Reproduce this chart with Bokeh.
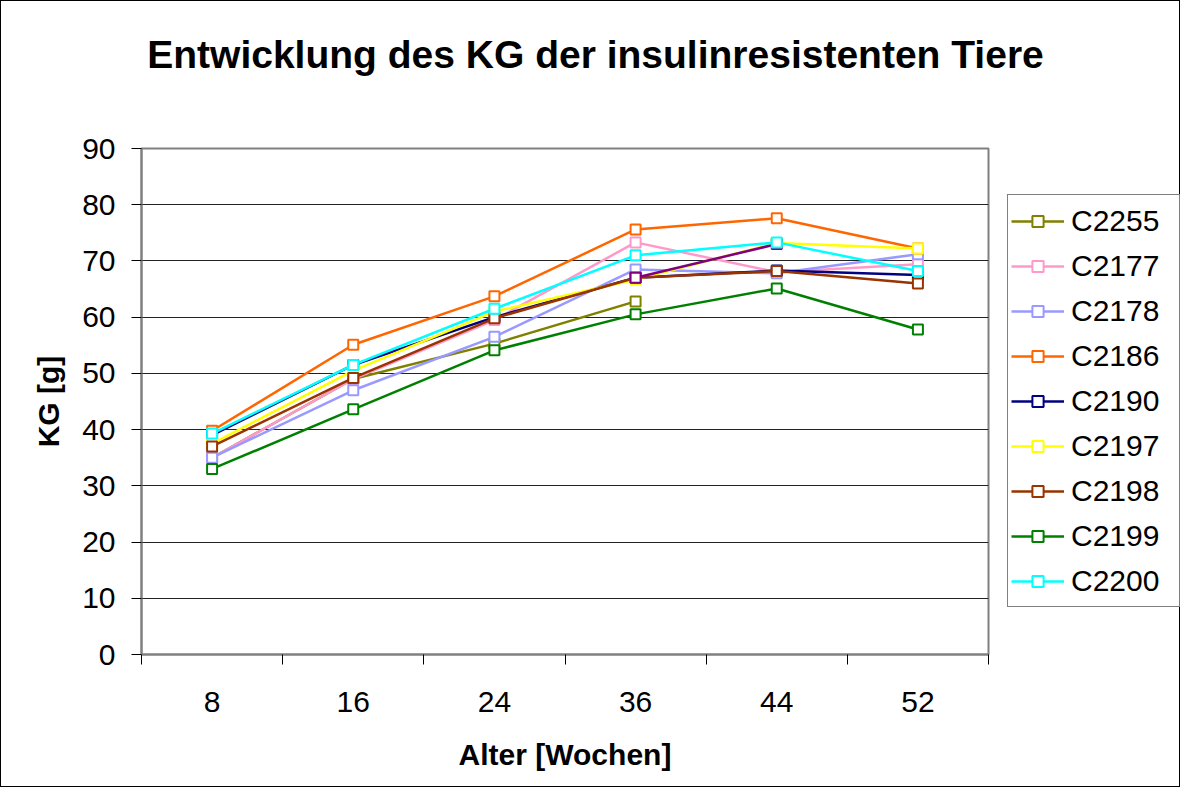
import numpy as np
from bokeh.plotting import figure
from bokeh.models import Range1d, FixedTicker, Legend, LegendItem, Label
from bokeh.layouts import column, row
from bokeh.embed import file_html
from bokeh.resources import INLINE

nan = np.nan
weeks = ["8", "16", "24", "36", "44", "52"]

names = ["C2255", "C2177", "C2178", "C2186", "C2190", "C2197", "C2198", "C2199", "C2200"]
C2255 = [35.0, 49.0, 55.3, 62.8, nan, nan]
C2177 = [35.0, 49.0, 59.5, 73.3, 68.0, 69.4]
C2178 = [35.0, 47.0, 56.5, 68.5, 67.8, 71.2]
C2186 = [39.8, 55.1, 63.7, 75.6, 77.6, 72.2]
C2190 = [39.0, 51.5, 60.0, 67.0, 68.3, 67.5]
C2197 = [37.5, 50.5, 61.0, 66.7, 73.2, 72.2]
C2198 = [37.0, 49.2, 59.8, 67.0, 68.2, 66.0]
C2199 = [33.0, 43.6, 54.1, 60.5, 65.1, 57.8]
C2200 = [39.3, 51.5, 61.5, 71.0, 73.3, 68.2]
unnamed = [nan, nan, nan, 67.0, 73.0, nan]

colors = ["#808000", "#FF99CC", "#9999FF", "#FF6600", "#000080", "#FFFF00",
          "#993300", "#008000", "#00FFFF"]
series = [C2255, C2177, C2178, C2186, C2190, C2197, C2198, C2199, C2200]

TITLE = "Entwicklung des KG der insulinresistenten Tiere"
FONT = "Liberation Sans"

xs = [i + 0.5 for i in range(len(weeks))]

# ---- title strip ----
p0 = figure(width=1180, height=128, x_range=Range1d(0, 1), y_range=Range1d(0, 1),
            output_backend="svg", toolbar_location=None,
            x_axis_location=None, y_axis_location=None, min_border=0)
p0.grid.visible = False
p0.outline_line_color = None
p0.background_fill_alpha = 0
p0.border_fill_alpha = 0
p0.add_layout(Label(x=595, y=74, x_units="screen", y_units="screen", text=TITLE,
                    text_font=FONT, text_font_size="39px", text_font_style="bold",
                    text_color="black", text_align="center", text_baseline="alphabetic"))

# ---- main plot ----
p = figure(width=990, height=659, x_range=Range1d(0, len(weeks)), y_range=Range1d(0, 90),
           output_backend="svg", toolbar_location=None,
           min_border_left=141, min_border_right=2, min_border_top=20, min_border_bottom=133)

p.outline_line_color = "#808080"
p.outline_line_width = 2
p.background_fill_color = "white"
p.border_fill_alpha = 0

p.xgrid.grid_line_color = None
p.ygrid.grid_line_color = "#222222"
p.ygrid.grid_line_width = 1
p.ygrid.ticker = FixedTicker(ticks=list(range(10, 90, 10)))

ya = p.yaxis[0]
ya.ticker = FixedTicker(ticks=list(range(0, 100, 10)))
ya.axis_line_color = "#808080"
ya.axis_line_width = 2
ya.major_tick_in = 0
ya.major_tick_out = 10
ya.major_tick_line_color = "black"
ya.minor_tick_line_color = None
ya.major_label_standoff = 16
ya.major_label_text_font = FONT
ya.major_label_text_font_size = "30px"
ya.major_label_text_color = "black"
ya.axis_label = "KG [g]"
ya.axis_label_text_font = FONT
ya.axis_label_text_font_size = "30px"
ya.axis_label_text_font_style = "bold"
ya.axis_label_text_color = "black"
ya.axis_label_standoff = 14

xa = p.xaxis[0]
xa.ticker = FixedTicker(ticks=xs, minor_ticks=list(range(0, len(weeks) + 1)))
xa.major_label_overrides = {x: w for x, w in zip(xs, weeks)}
xa.axis_line_color = "#808080"
xa.axis_line_width = 2
xa.major_tick_line_color = None
xa.major_tick_in = 0
xa.major_tick_out = 0
xa.minor_tick_line_color = "black"
xa.minor_tick_in = 0
xa.minor_tick_out = 10
xa.major_label_standoff = 27
xa.major_label_text_font = FONT
xa.major_label_text_font_size = "30px"
xa.major_label_text_color = "black"
xa.axis_label = "Alter [Wochen]"
xa.axis_label_text_font = FONT
xa.axis_label_text_font_size = "30px"
xa.axis_label_text_font_style = "bold"
xa.axis_label_text_color = "black"
xa.axis_label_standoff = 23

draw_order = list(range(7)) + ["u"] + [7, 8]
for k in draw_order:
    if k == "u":
        p.line(xs, unnamed, line_color="#800080", line_width=2.5)
        p.scatter(xs, unnamed, marker="square", size=10, line_color="#800080",
                  line_width=2, fill_color="white")
        continue
    p.line(xs, series[k], line_color=colors[k], line_width=2.5)
    p.scatter(xs, series[k], marker="square", size=10, line_color=colors[k],
              line_width=2, fill_color="white")

# ---- legend panel ----
p2 = figure(width=190, height=659, x_range=Range1d(0, 1), y_range=Range1d(0, 1),
            output_backend="svg", toolbar_location=None,
            x_axis_location=None, y_axis_location=None,
            min_border_left=0, min_border_right=0, min_border_top=20, min_border_bottom=133)
p2.grid.visible = False
p2.outline_line_color = None
p2.background_fill_alpha = 0
p2.border_fill_alpha = 0
items = []
for k in range(len(names)):
    ln = p2.line([nan], [nan], line_color=colors[k], line_width=2.5)
    mk = p2.scatter([nan], [nan], marker="square", size=10, line_color=colors[k],
                    line_width=2, fill_color="white")
    items.append(LegendItem(label=names[k], renderers=[ln, mk]))

legend = Legend(items=items, location=(17, 47), orientation="vertical")
legend.margin = 0
legend.padding = 3
legend.spacing = 0
legend.glyph_width = 53
legend.glyph_height = 28
legend.label_height = 45
legend.label_width = 105
legend.label_standoff = 7
legend.label_text_font = FONT
legend.label_text_font_size = "30px"
legend.label_text_baseline = "middle"
legend.label_text_color = "black"
legend.border_line_color = "black"
legend.border_line_width = 1
legend.background_fill_color = "white"
legend.background_fill_alpha = 1
p2.add_layout(legend, "center")

layout = column(p0, row(p, p2, spacing=0), spacing=0)
layout.styles = {"outline": "1px solid black", "outline-offset": "-1px"}

open("out.html", "w").write(file_html(layout, INLINE))
